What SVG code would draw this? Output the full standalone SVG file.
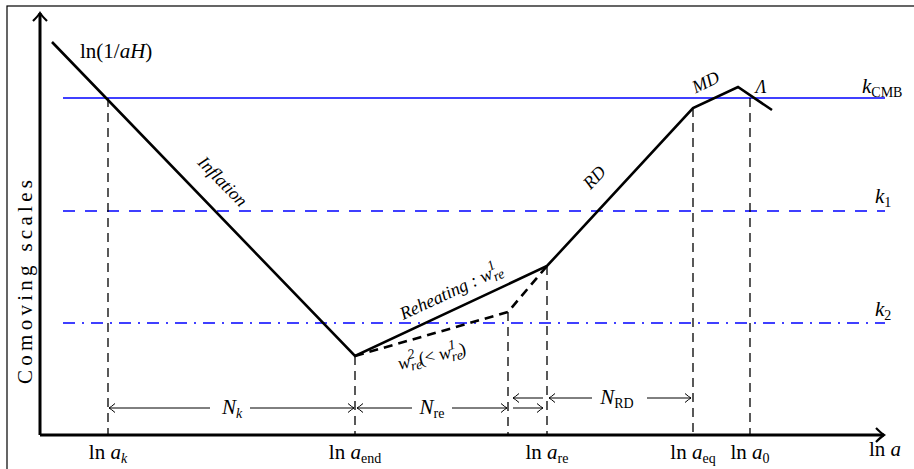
<svg xmlns="http://www.w3.org/2000/svg" width="914" height="469" viewBox="0 0 914 469">
<defs>
<style>
.t{font-family:'Liberation Serif',serif;font-size:21px;fill:#000}
.i{font-style:italic}
.sub{font-size:14px}
.sc{font-family:'Liberation Serif',serif;font-style:italic;font-size:18px;fill:#000}
.curve{fill:none;stroke:#000;stroke-width:2.6;stroke-linejoin:miter}
.vd{fill:none;stroke:#000;stroke-width:1.3;stroke-dasharray:9 6}
.arr{fill:none;stroke:#000;stroke-width:1}
.blue{fill:none;stroke:#0000ff;stroke-width:1.3}
</style>
<marker id="ah" viewBox="-10 -6 12 12" refX="0" refY="0" markerWidth="12" markerHeight="12" markerUnits="userSpaceOnUse" orient="auto">
<path d="M-6,-4.5 Q-2,-1 0,0 Q-2,1 -6,4.5" fill="none" stroke="#000" stroke-width="1"/>
</marker>
<marker id="axh" viewBox="-12 -9 14 18" refX="0" refY="0" markerWidth="14" markerHeight="18" markerUnits="userSpaceOnUse" orient="auto">
<path d="M-8,-7 Q-3,-2 0,0 Q-3,2 -8,7" fill="none" stroke="#000" stroke-width="2.2"/>
</marker>
</defs>

<rect x="7" y="6" width="1000" height="1000" fill="none" stroke="#000" stroke-width="1.2"/>

<g id="axes">
<line x1="40" y1="435" x2="40" y2="13" stroke="#000" stroke-width="3" marker-end="url(#axh)"/>
<line x1="40" y1="435" x2="884" y2="435" stroke="#000" stroke-width="3" marker-end="url(#axh)"/>
<text class="t" transform="translate(32,282) rotate(-90)" text-anchor="middle" textLength="204" lengthAdjust="spacing">Comoving scales</text>
<text class="t" x="885" y="456" text-anchor="middle">ln <tspan class="i">a</tspan></text>
</g>

<g id="scales">
<line class="blue" x1="63" y1="98" x2="885" y2="98"/>
<line class="blue" x1="63" y1="211" x2="885" y2="211" stroke-dasharray="12 10"/>
<line class="blue" x1="63" y1="323" x2="885" y2="323" stroke-dasharray="12 7 2 7"/>
<text class="t" x="862" y="93"><tspan class="i">k</tspan><tspan class="sub" dy="4">CMB</tspan></text>
<text class="t" x="875" y="203"><tspan class="i">k</tspan><tspan class="sub" dy="4">1</tspan></text>
<text class="t" x="875" y="316"><tspan class="i">k</tspan><tspan class="sub" dy="4">2</tspan></text>
</g>

<g id="connectors">
<line class="vd" x1="108" y1="98" x2="108" y2="435"/>
<line class="vd" x1="355" y1="356" x2="355" y2="435"/>
<line class="vd" x1="508" y1="312" x2="508" y2="435"/>
<line class="vd" x1="547" y1="266" x2="547" y2="435"/>
<line class="vd" x1="693" y1="108" x2="693" y2="435"/>
<line class="vd" x1="750" y1="98" x2="750" y2="435"/>

<line class="arr" x1="210" y1="408" x2="109" y2="408" marker-end="url(#ah)"/>
<line class="arr" x1="250" y1="408" x2="354" y2="408" marker-end="url(#ah)"/>
<line class="arr" x1="412" y1="408" x2="357" y2="408" marker-end="url(#ah)"/>
<line class="arr" x1="452" y1="408" x2="507" y2="408" marker-end="url(#ah)"/>
<line class="arr" x1="543" y1="398" x2="513" y2="398" marker-end="url(#ah)"/>
<line class="arr" x1="513" y1="408" x2="543" y2="408" marker-end="url(#ah)"/>
<line class="arr" x1="592" y1="398" x2="549" y2="398" marker-end="url(#ah)"/>
<line class="arr" x1="647" y1="398" x2="691" y2="398" marker-end="url(#ah)"/>
</g>

<g id="curve">
<polyline class="curve" points="52,42 355,356 547,266 693,108 738,87 772,110"/>
<polyline class="curve" points="355,356 508,312 547,266" stroke-dasharray="9 6"/>
<text class="t" x="80" y="58">ln(1/<tspan class="i">aH</tspan>)</text>
</g>

<g id="labels">
<text class="sc" transform="translate(222,182) rotate(46)" text-anchor="middle" y="5">Inflation</text>
<text class="sc" transform="translate(452,293) rotate(-25)" text-anchor="middle" y="4">Reheating : w<tspan class="sub" dy="4">re</tspan><tspan class="sub" dx="-12" dy="-12">1</tspan></text>
<text class="sc" transform="translate(432,357) rotate(-13)" text-anchor="middle" y="5" font-size="20">w<tspan class="sub" dy="4">re</tspan><tspan class="sub" dx="-12" dy="-12">2</tspan><tspan dx="3" dy="8" font-style="normal">(&lt; </tspan><tspan>w</tspan><tspan class="sub" dy="4">re</tspan><tspan class="sub" dx="-12" dy="-12">1</tspan><tspan dx="3" dy="8" font-style="normal">)</tspan></text>
<text class="sc" transform="translate(595,178) rotate(-47)" text-anchor="middle" y="5">RD</text>
<text class="sc" transform="translate(706,83) rotate(-25)" text-anchor="middle" y="5">MD</text>
<text class="sc" x="761" y="93" text-anchor="middle" font-size="22">Λ</text>
</g>

<g id="xlabels">
<text class="t" x="108" y="459" text-anchor="middle">ln <tspan class="i">a</tspan><tspan class="sub i" dy="4">k</tspan></text>
<text class="t" x="355" y="459" text-anchor="middle">ln <tspan class="i">a</tspan><tspan class="sub" dy="4">end</tspan></text>
<text class="t" x="547" y="459" text-anchor="middle">ln <tspan class="i">a</tspan><tspan class="sub" dy="4">re</tspan></text>
<text class="t" x="693" y="459" text-anchor="middle">ln <tspan class="i">a</tspan><tspan class="sub" dy="4">eq</tspan></text>
<text class="t" x="750" y="459" text-anchor="middle">ln <tspan class="i">a</tspan><tspan class="sub" dy="4">0</tspan></text>
<text class="t" x="232" y="414" text-anchor="middle"><tspan class="i">N</tspan><tspan class="sub i" dy="4">k</tspan></text>
<text class="t" x="432" y="414" text-anchor="middle"><tspan class="i">N</tspan><tspan class="sub" dy="4">re</tspan></text>
<text class="t" x="617" y="404" text-anchor="middle"><tspan class="i">N</tspan><tspan class="sub" dy="4">RD</tspan></text>
</g>
</svg>
